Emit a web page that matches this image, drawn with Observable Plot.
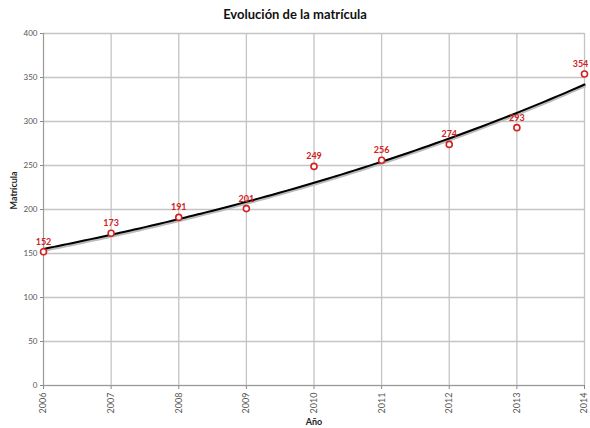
<!DOCTYPE html>
<html><head><meta charset="utf-8">
<script src="https://cdn.jsdelivr.net/npm/d3@7"></script>
<script src="https://cdn.jsdelivr.net/npm/@observablehq/plot@0.6"></script>
<style>
body{margin:0;background:#fff;font-family:Lato,"Open Sans",sans-serif;}
#title{height:26px;line-height:28px;text-align:center;font-weight:bold;font-size:13px;color:#111;width:590px;}
</style></head><body>
<div id="title">Evolución de la matrícula</div>
<div id="chart"></div>
<script>
const years = [2006, 2007, 2008, 2009, 2010, 2011, 2012, 2013, 2014];
const matricula = [152, 173, 191, 201, 249, 256, 274, 293, 354];
const yTicks = [0, 50, 100, 150, 200, 250, 300, 350, 400];

const data = years.map((y, i) => ({year: y, value: matricula[i]}));
const last = data.length - 1;

// exponential trend line fitted to the data
const xs = years.map(y => y - years[0]);
const ls = matricula.map(v => Math.log(v));
const mx = d3.mean(xs), ml = d3.mean(ls);
const b = d3.sum(xs.map((x, i) => (x - mx) * (ls[i] - ml))) / d3.sum(xs.map(x => (x - mx) ** 2));
const a = ml - b * mx;
const trend = d3.range(0, 8.001, 0.1).map(t => ({year: years[0] + t, value: Math.exp(a + b * t)}));

const chart = Plot.plot({
  width: 590,
  height: 402,
  marginTop: 7,
  marginBottom: 43,
  marginLeft: 43,
  marginRight: 6,
  style: {fontFamily: "Lato, 'Open Sans', sans-serif", fontSize: "8px", color: "#555"},
  x: {domain: [2006, 2014], ticks: years, tickFormat: d => String(d), label: null},
  y: {domain: [0, 400], ticks: yTicks, label: null},
  marks: [
    Plot.gridX(years, {stroke: "#c4c4c4", strokeOpacity: 1, strokeWidth: 1.3}),
    Plot.gridY(yTicks, {stroke: "#c4c4c4", strokeOpacity: 1, strokeWidth: 1.3}),
    Plot.axisY(yTicks, {tickSize: 3, tickPadding: 3, fontSize: 8, stroke: "#888"}),
    Plot.axisX(years, {tickSize: 4, tickRotate: -90, fontSize: 9, tickPadding: 3, stroke: "#888", tickFormat: d => String(d)}),
    Plot.ruleY([0], {stroke: "#999"}),
    Plot.ruleX([2006], {stroke: "#999"}),
    Plot.line(trend, {x: "year", y: "value", stroke: "#bbb", strokeWidth: 3, dy: 1.5, curve: "basis"}),
    Plot.line(trend, {x: "year", y: "value", stroke: "#000", strokeWidth: 2, curve: "basis"}),
    Plot.dot(data, {x: "year", y: "value", r: 3, stroke: "#d42020", strokeWidth: 1.6, fill: "white"}),
    Plot.text(data.slice(0, last), {x: "year", y: "value", text: d => String(d.value), dy: -10, fill: "#d42020", fontWeight: "bold", fontSize: 9}),
    Plot.text(data.slice(last), {x: "year", y: "value", text: d => String(d.value), dy: -10, dx: -4, fill: "#d42020", fontWeight: "bold", fontSize: 9}),
    Plot.text(["Matrícula"], {frameAnchor: "left", dx: -29, rotate: -90, fontWeight: "bold", fontSize: 9, fill: "#222"}),
    Plot.text(["Año"], {frameAnchor: "bottom", dy: 39, fontWeight: "bold", fontSize: 9, fill: "#222"})
  ]
});
document.getElementById("chart").appendChild(chart);
</script>
</body></html>
